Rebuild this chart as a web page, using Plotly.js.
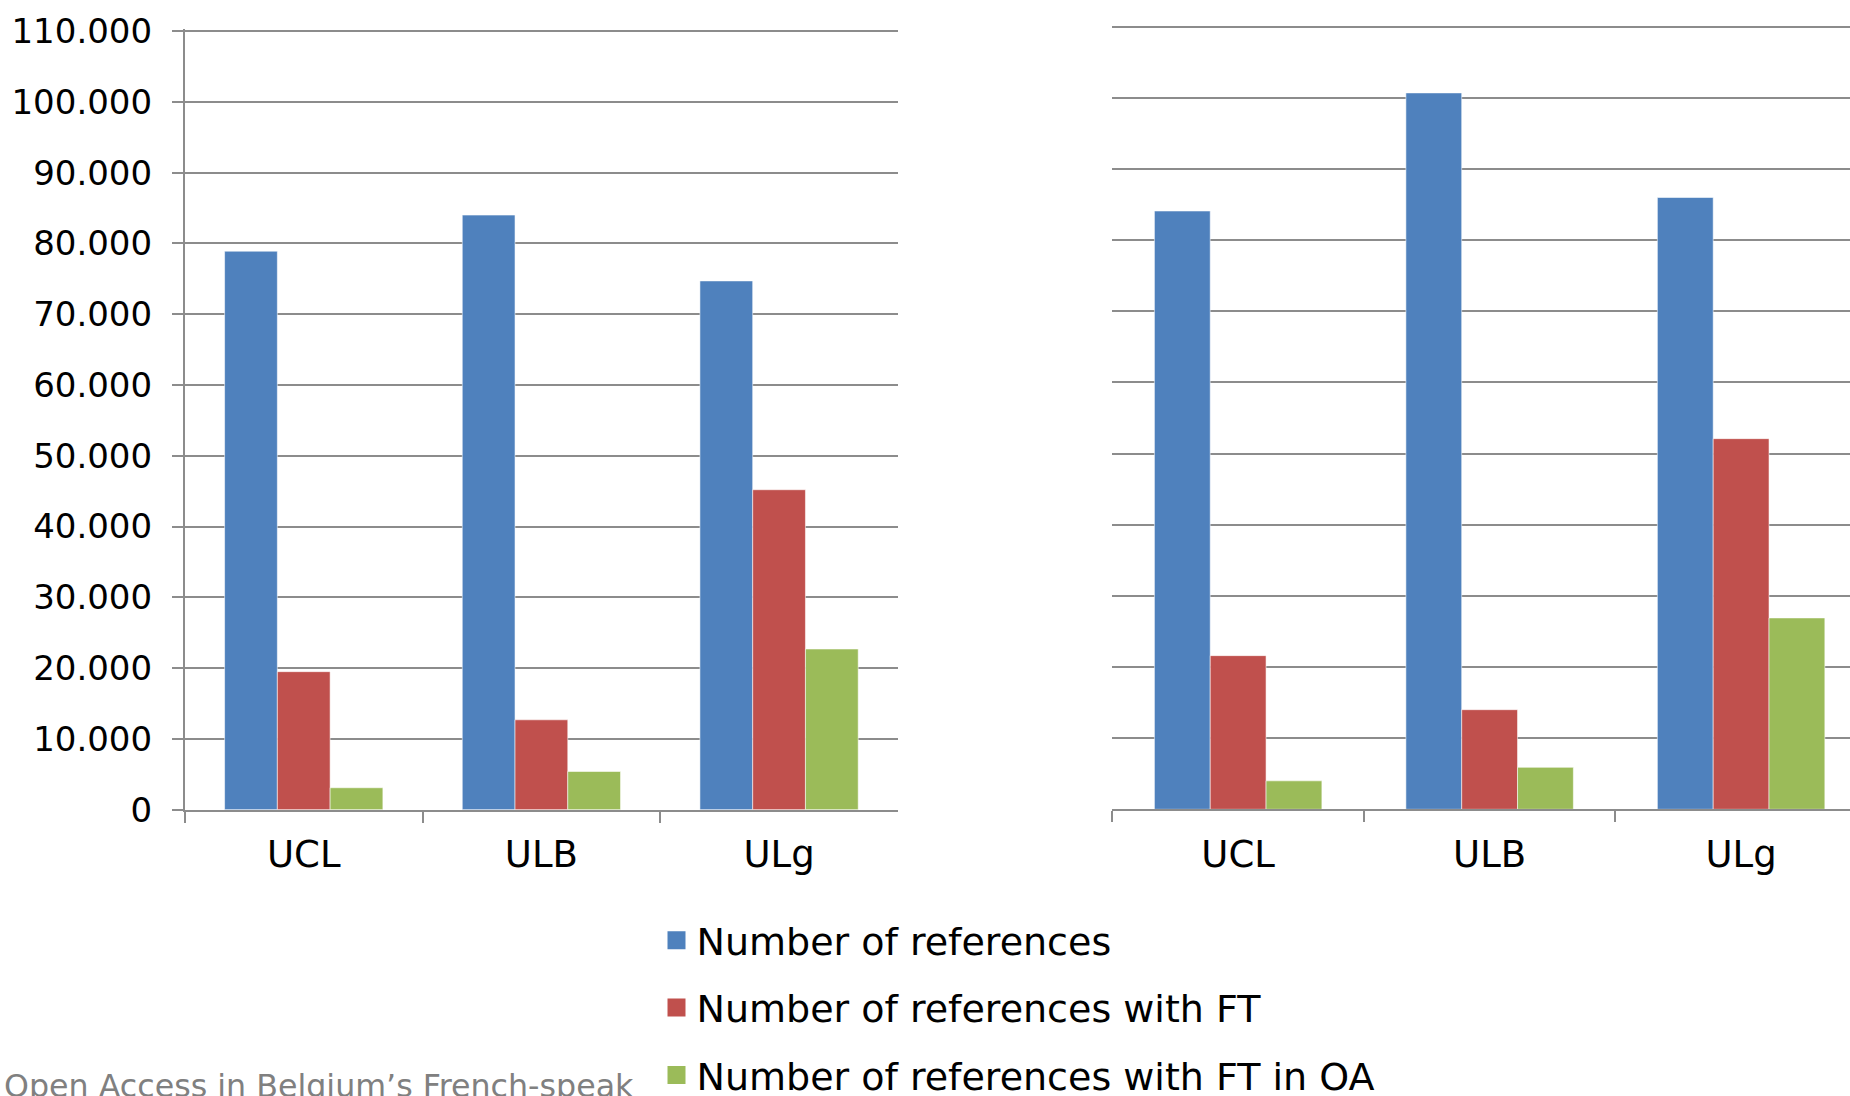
<!DOCTYPE html>
<html><head><meta charset="utf-8">
<script src="https://cdn.plot.ly/plotly-3.0.1.min.js"></script>
<style>html,body{margin:0;padding:0;background:#fff;overflow:hidden}#chart{width:1850px;height:1096px}</style>
</head><body><div id="chart"></div>
<script>
// ---- data ----
const categories = ['UCL', 'ULB', 'ULg'];
const seriesNames = ['Number of references', 'Number of references with FT', 'Number of references with FT in OA'];
const leftRefs = [78900, 84000, 74700];
const leftFT   = [19500, 12700, 45200];
const leftOA   = [3100, 5400, 22700];
const rightRefs = [84100, 100700, 86000];
const rightFT   = [21600, 14000, 52100];
const rightOA   = [4000, 5900, 26900];
const yTickVals = [0, 10000, 20000, 30000, 40000, 50000, 60000, 70000, 80000, 90000, 100000, 110000];
const yTickText = ['0', '10.000', '20.000', '30.000', '40.000', '50.000', '60.000', '70.000', '80.000', '90.000', '100.000', '110.000'];
const footerText = 'Open Access in Belgium\u2019s French-speak';

// ---- style ----
const colors = ['#4F81BD', '#C0504D', '#9BBB59'];
const FONT = 'DejaVu Sans, Liberation Sans, Arial, sans-serif';
const GRID = '#8c8c8c';
const W = 1850, H = 1096;
const YMAX = 110300; // a little headroom so the 110.000 gridline is drawn

const leftSeries = [leftRefs, leftFT, leftOA];
const rightSeries = [rightRefs, rightFT, rightOA];
const barEdge = {width: 1, color: 'rgba(255,255,255,0.55)'};
const traces = [];
leftSeries.forEach((vals, i) => traces.push({
  type: 'bar', x: categories, y: vals, name: seriesNames[i], xaxis: 'x', yaxis: 'y',
  marker: {color: colors[i], line: barEdge}, showlegend: false, hoverinfo: 'skip'
}));
rightSeries.forEach((vals, i) => traces.push({
  type: 'bar', x: categories, y: vals, name: seriesNames[i], xaxis: 'x2', yaxis: 'y2',
  marker: {color: colors[i], line: barEdge}, showlegend: false, hoverinfo: 'skip'
}));
// legend entries
seriesNames.forEach((n, i) => traces.push({
  type: 'scatter', mode: 'markers', x: [null], y: [null], name: n, xaxis: 'x', yaxis: 'y',
  legendgroup: 'g' + i, showlegend: true, hoverinfo: 'skip',
  marker: {symbol: 'square', size: 16, color: colors[i], line: {width: 2, color: colors[i]}}
}));

const px = v => v / W, py = v => (H - v) / H;

const xCommon = {
  type: 'category', tickson: 'boundaries', ticks: 'outside', ticklen: 11, tickwidth: 2, tickcolor: GRID,
  showline: true, linecolor: GRID, linewidth: 2, showgrid: false, zeroline: false,
  tickfont: {family: FONT, size: 37, color: '#000'}, ticklabelstandoff: 11,
  fixedrange: true, automargin: false
};
const yCommon = {
  range: [0, YMAX], tickvals: yTickVals, ticktext: yTickText,
  showgrid: true, gridcolor: GRID, gridwidth: 2, zeroline: false, fixedrange: true, automargin: false
};

const layout = {
  width: W, height: H, margin: {l: 0, r: 0, t: 0, b: 0, autoexpand: false},
  paper_bgcolor: '#fff', plot_bgcolor: 'rgba(0,0,0,0)',
  barmode: 'group', bargap: 0.334, bargroupgap: 0,
  font: {family: FONT, color: '#000'},
  xaxis: Object.assign({}, xCommon, {domain: [px(184.9), px(897.9)], range: [-0.5, 2.5], anchor: 'y'}),
  yaxis: Object.assign({}, yCommon, {domain: [py(809.7), py(28.9)], anchor: 'x',
    showline: true, linecolor: GRID, linewidth: 2, ticks: 'outside', ticklen: 11, tickwidth: 2, tickcolor: GRID,
    tickfont: {family: FONT, size: 34, color: '#000'}, ticklabelstandoff: 13}),
  xaxis2: Object.assign({}, xCommon, {domain: [px(1112.4), 1], range: [-0.5, 2.433], anchor: 'y2'}),
  yaxis2: Object.assign({}, yCommon, {domain: [py(809.3), py(24.6)], anchor: 'x2',
    showline: false, ticks: '', showticklabels: false}),
  showlegend: true,
  legend: {
    x: px(656.5), xanchor: 'left', y: py(909), yanchor: 'top',
    orientation: 'v', traceorder: 'grouped', tracegroupgap: 15,
    font: {family: FONT, size: 38, color: '#000'}, bgcolor: 'rgba(0,0,0,0)', borderwidth: 0
  },
  annotations: [{
    text: footerText, xref: 'paper', yref: 'paper', x: px(1.5), xanchor: 'left',
    y: py(1065.5), yanchor: 'top', showarrow: false,
    font: {family: FONT, size: 31.7, color: '#808080'}
  }]
};

Plotly.newPlot('chart', traces, layout, {displayModeBar: false, staticPlot: true});
</script>
</body></html>
